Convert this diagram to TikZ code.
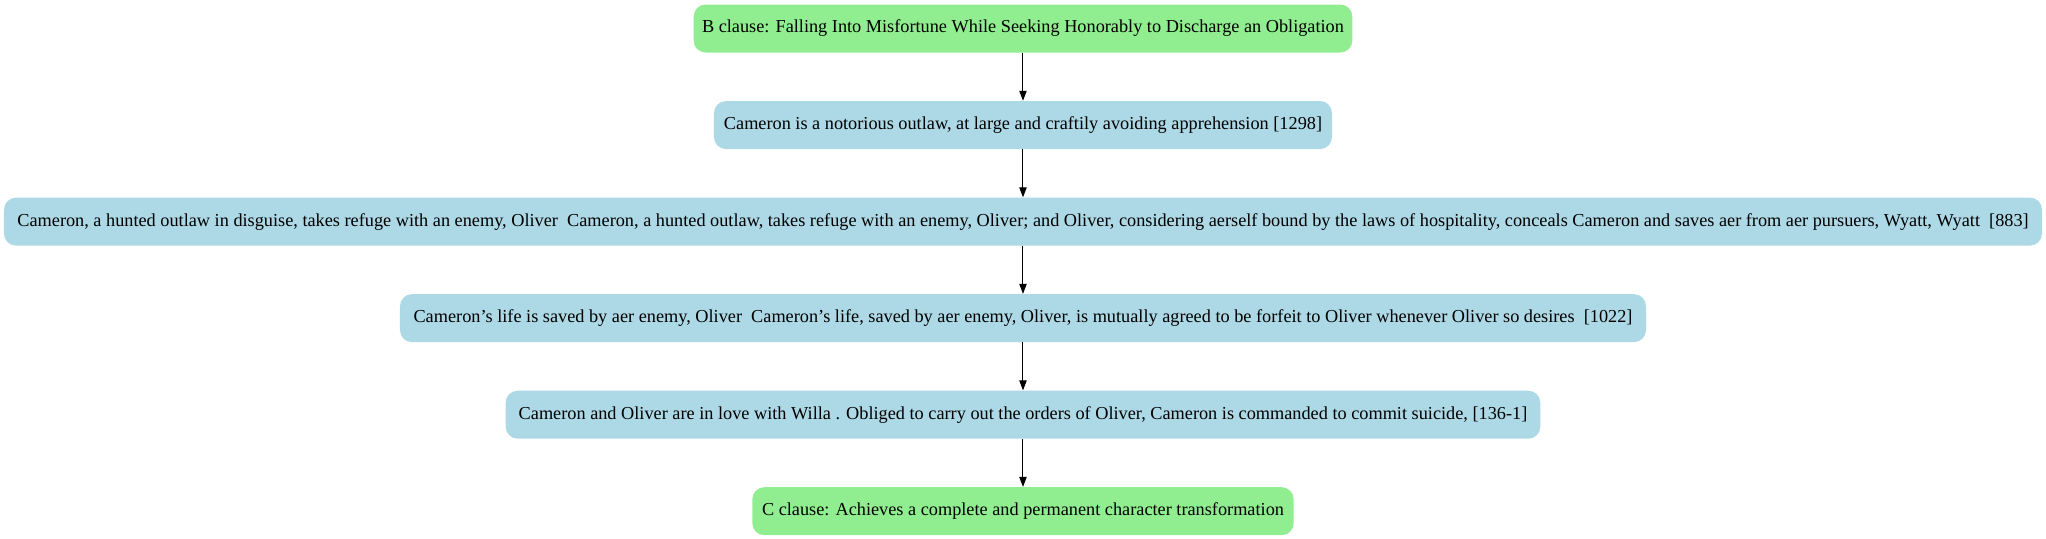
\documentclass[tikz,border=0pt]{standalone}
\usepackage{fontspec}
\setmainfont{Liberation Serif}
\usetikzlibrary{positioning,arrows.meta}

\tikzset{
  korak/.style={rounded corners=9pt, minimum height=36pt, inner xsep=4pt,
    font=\fontsize{13.7}{16}\selectfont, fill=lightblue},
  klavzula/.style={korak, fill=lightgreen},
  povezava/.style={-{Triangle[length=7.5pt,width=5.5pt]}, line width=0.75pt}
}
\definecolor{lightblue}{RGB}{173,216,230}
\definecolor{lightgreen}{RGB}{144,238,144}

\begin{document}
\begin{tikzpicture}[node distance=36pt]
\useasboundingbox (-767.25pt,21.4pt) rectangle (767.25pt,-382.85pt);

\node[klavzula, minimum width=494pt] (b) at (0,0) {B clause: Falling Into Misfortune While Seeking Honorably to Discharge an Obligation};
\node[korak, minimum width=463.5pt, below=of b] (k1) {Cameron is a notorious outlaw, at large and craftily avoiding apprehension [1298]};
\node[korak, minimum width=1528.5pt, below=of k1] (k2) {Cameron, a hunted outlaw in disguise, takes refuge with an enemy, Oliver\ \ Cameron, a hunted outlaw, takes refuge with an enemy, Oliver; and Oliver, considering aerself bound by the laws of hospitality, conceals Cameron and saves aer from aer pursuers, Wyatt, Wyatt\ \ [883]};
\node[korak, minimum width=934.5pt, below=of k2] (k3) {Cameron’s life is saved by aer enemy, Oliver\ \ Cameron’s life, saved by aer enemy, Oliver, is mutually agreed to be forfeit to Oliver whenever Oliver so desires\ \ [1022]};
\node[korak, minimum width=776pt, below=of k3] (k4) {Cameron and Oliver are in love with Willa . Obliged to carry out the orders of Oliver, Cameron is commanded to commit suicide, [136-1]};
\node[klavzula, minimum width=406pt, below=of k4] (c) {C clause: Achieves a complete and permanent character transformation};

% puscice
\foreach \od/\do in {b/k1,k1/k2,k2/k3,k3/k4,k4/c}
\draw[povezava] (\od) -- (\do);
\end{tikzpicture}
\end{document}
